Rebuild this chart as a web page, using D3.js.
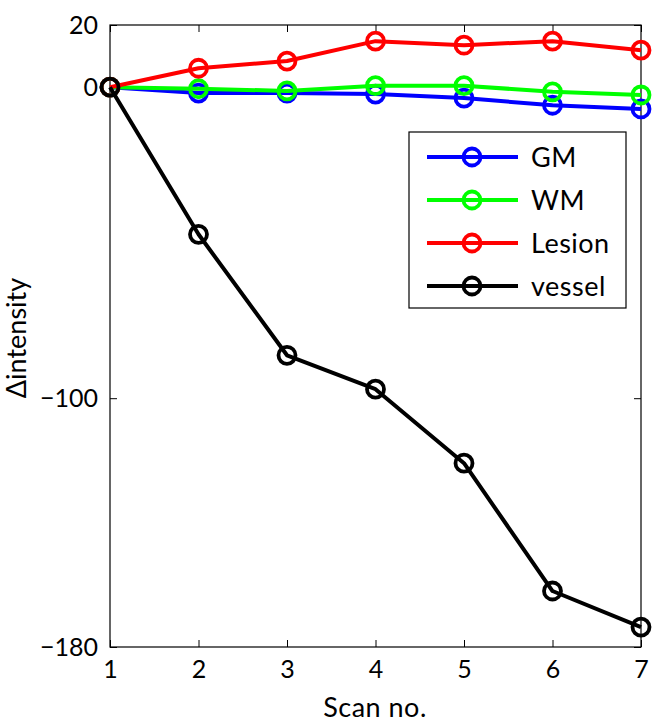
<!DOCTYPE html>
<html><head><meta charset="utf-8">
<script src="https://cdn.jsdelivr.net/npm/d3@7"></script>
<style>body{margin:0;background:#fff}svg{display:block}text{font-family:Lato,"Open Sans",sans-serif}</style>
</head><body>
<svg id="c" width="665" height="726"></svg>
<script>
const scans = [1, 2, 3, 4, 5, 6, 7];
const seriesNames = ["GM", "WM", "Lesion", "vessel"];
const seriesColors = ["#0000ff", "#00ff00", "#ff0000", "#000000"];
const gmValues = [0, -1.9, -1.9, -2.2, -3.5, -5.8, -7];
const wmValues = [0, -0.5, -1.2, 0.5, 0.5, -1.5, -2.5];
const lesionValues = [0, 6.1, 8.4, 14.8, 13.5, 14.8, 11.9];
const vesselValues = [0, -47.3, -86.2, -97.1, -120.9, -162, -173.6];
const yTicks = [-180, -100, 0, 20];
const xTicks = [1, 2, 3, 4, 5, 6, 7];

const allValues = [gmValues, wmValues, lesionValues, vesselValues];
const svg = d3.select("#c");
const L = 110, R = 641, T = 25, B = 647;
const x = d3.scaleLinear().domain([1, 7]).range([L, R]);
const y = d3.scaleLinear().domain([-180, 20]).range([B, T]);

// box
svg.append("rect").attr("x", L).attr("y", T).attr("width", R - L).attr("height", B - T)
  .attr("fill", "none").attr("stroke", "#000").attr("stroke-width", 1.2);

const tl = 7;
const axB = svg.append("g").attr("transform", `translate(0,${B})`)
  .call(d3.axisBottom(x).tickValues(xTicks).tickSize(-tl).tickPadding(13).tickFormat(d3.format("d")));
const axT = svg.append("g").attr("transform", `translate(0,${T})`)
  .call(d3.axisTop(x).tickValues(xTicks).tickSize(-tl).tickFormat(""));
const axL = svg.append("g").attr("transform", `translate(${L},0)`)
  .call(d3.axisLeft(y).tickValues(yTicks).tickSize(-tl).tickPadding(12).tickFormat(d3.format("d")));
const axR = svg.append("g").attr("transform", `translate(${R},0)`)
  .call(d3.axisRight(y).tickValues(yTicks).tickSize(-tl).tickFormat(""));
[axB, axT, axL, axR].forEach(a => {
  a.select(".domain").remove();
  a.selectAll("line").attr("stroke", "#000").attr("stroke-width", 1);
  a.selectAll("text").attr("font-size", 25).attr("fill", "#000").attr("font-family", "Lato, 'Open Sans', sans-serif");
});
axB.selectAll("text").attr("dy", "0.71em");

// series
const line = d3.line().x((d, i) => x(scans[i])).y(d => y(d));
allValues.forEach((vals, si) => {
  const g = svg.append("g");
  g.append("path").datum(vals).attr("d", line).attr("fill", "none")
    .attr("stroke", seriesColors[si]).attr("stroke-width", 4).attr("stroke-linejoin", "round");
  g.selectAll("circle").data(vals).join("circle")
    .attr("cx", (d, i) => x(scans[i])).attr("cy", d => y(d)).attr("r", 8.5)
    .attr("fill", "none").attr("stroke", seriesColors[si]).attr("stroke-width", 3.8);
});

// legend
const lg = svg.append("g");
lg.append("rect").attr("x", 409).attr("y", 132).attr("width", 217).attr("height", 176)
  .attr("fill", "#fff").attr("stroke", "#000").attr("stroke-width", 1.2);
seriesNames.forEach((n, i) => {
  const yy = 157 + i * 43;
  lg.append("line").attr("x1", 427).attr("x2", 518).attr("y1", yy).attr("y2", yy)
    .attr("stroke", seriesColors[i]).attr("stroke-width", 4);
  lg.append("circle").attr("cx", 472).attr("cy", yy).attr("r", 8.5).attr("fill", "none")
    .attr("stroke", seriesColors[i]).attr("stroke-width", 3.8);
  lg.append("text").attr("x", 531).attr("y", yy).attr("dy", "0.36em").attr("font-size", 27)
    .attr("letter-spacing", 0.5).text(n);
});

// axis labels
svg.append("text").attr("x", 375).attr("y", 717).attr("text-anchor", "middle")
  .attr("font-size", 27).attr("letter-spacing", 0.5).text("Scan no.");
svg.append("text").attr("transform", "translate(26,338) rotate(-90)").attr("text-anchor", "middle")
  .attr("font-size", 27).text("\u0394intensity");
</script>
</body></html>
